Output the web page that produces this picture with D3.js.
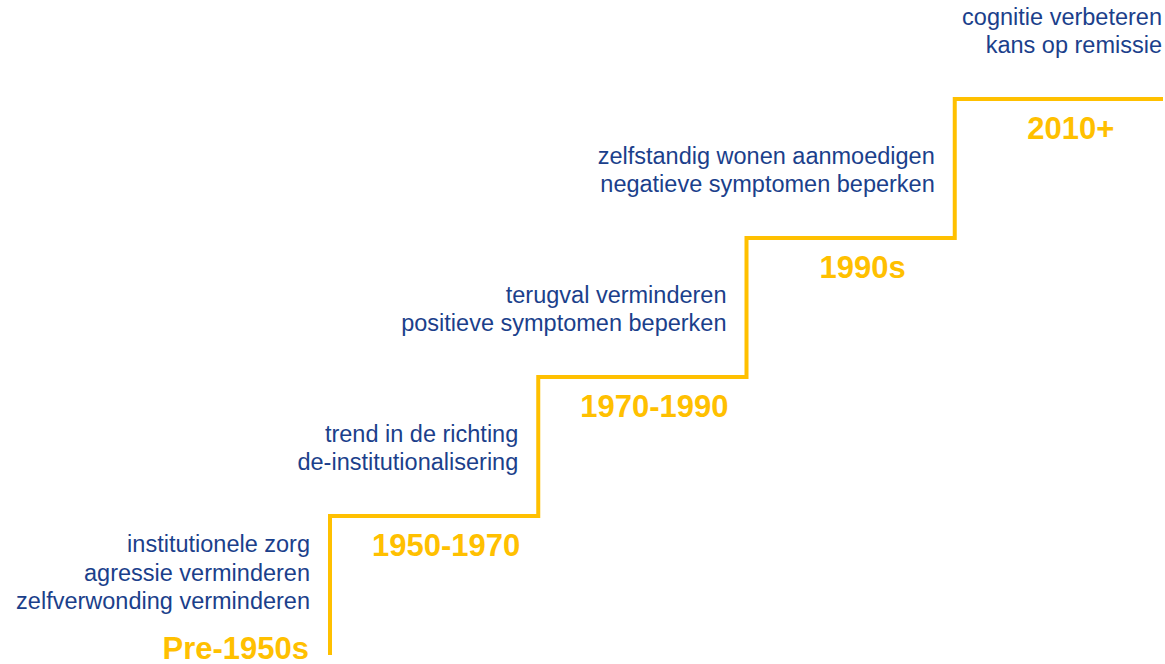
<!DOCTYPE html>
<html>
<head>
<meta charset="utf-8">
<script src="https://cdn.jsdelivr.net/npm/d3@7"></script>
<style>
  html, body { margin: 0; padding: 0; background: #ffffff; }
  svg { display: block; }
</style>
</head>
<body>
<div id="chart"></div>
<script>
// Periods, one per step of the staircase
const periods = ["Pre-1950s", "1950-1970", "1970-1990", "1990s", "2010+"];

// Treatment goals per period
const goals = [
  ["institutionele zorg", "agressie verminderen", "zelfverwonding verminderen"],
  ["trend in de richting", "de-institutionalisering"],
  ["terugval verminderen", "positieve symptomen beperken"],
  ["zelfstandig wonen aanmoedigen", "negatieve symptomen beperken"],
  ["cognitie verbeteren", "kans op remissie"]
];

// Step level of each period (0 = ground)
const levels = [0, 1, 2, 3, 4];

const width = 1165;
const height = 664;
const yellow = "#FFC000";
const blue = "#1B3F8B";
const font = "'Liberation Sans', Arial, sans-serif";

const svg = d3.select("#chart")
  .append("svg")
  .attr("width", width)
  .attr("height", height)
  .attr("viewBox", `0 0 ${width} ${height}`);

// Riser positions and step heights
const x = d3.scaleLinear().domain([0, 4]).range([330, 1163]);
const y = d3.scaleLinear().domain([0, 4]).range([655, 99]);

// Staircase path: up, across, up, across...
let d = `M${x(0)},${y(levels[0])}`;
levels.slice(1).forEach((lv, i) => {
  d += `V${y(lv)}H${x(i + 1)}`;
});

svg.append("path")
  .attr("d", d)
  .attr("fill", "none")
  .attr("stroke", yellow)
  .attr("stroke-width", 4)
  .attr("stroke-linejoin", "miter")
  .attr("stroke-linecap", "butt");

// Period labels
svg.selectAll(".period")
  .data(periods)
  .enter()
  .append("text")
  .attr("class", "period")
  .attr("x", (p, i) => i === 0 ? x(0) - 21 : (x(i - 1) + x(i)) / 2 + 12)
  .attr("y", (p, i) => i === 0 ? y(0) - 7 : y(levels[i]) + 29)
  .attr("text-anchor", (p, i) => i === 0 ? "end" : "middle")
  .attr("dominant-baseline", "central")
  .style("font-family", font)
  .style("font-weight", "bold")
  .style("font-size", "31px")
  .style("fill", yellow)
  .text(p => p);

// Goal text blocks, right-aligned left of each riser
const lineGap = 28.5;
const last = goals.length - 1;
const blocks = svg.selectAll(".goals")
  .data(goals)
  .enter()
  .append("g")
  .attr("class", "goals");

blocks.selectAll("text")
  .data((g, i) => g.map((t, j) => ({ t, j, n: g.length, i })))
  .enter()
  .append("text")
  .attr("x", o => o.i === last ? width - 3 : x(o.i) - 20)
  .attr("y", o => y(levels[o.i]) - 54 - (o.n - 1 - o.j) * lineGap)
  .attr("text-anchor", "end")
  .attr("dominant-baseline", "central")
  .style("font-family", font)
  .style("font-size", "23.5px")
  .style("fill", blue)
  .text(o => o.t);
</script>
</body>
</html>
